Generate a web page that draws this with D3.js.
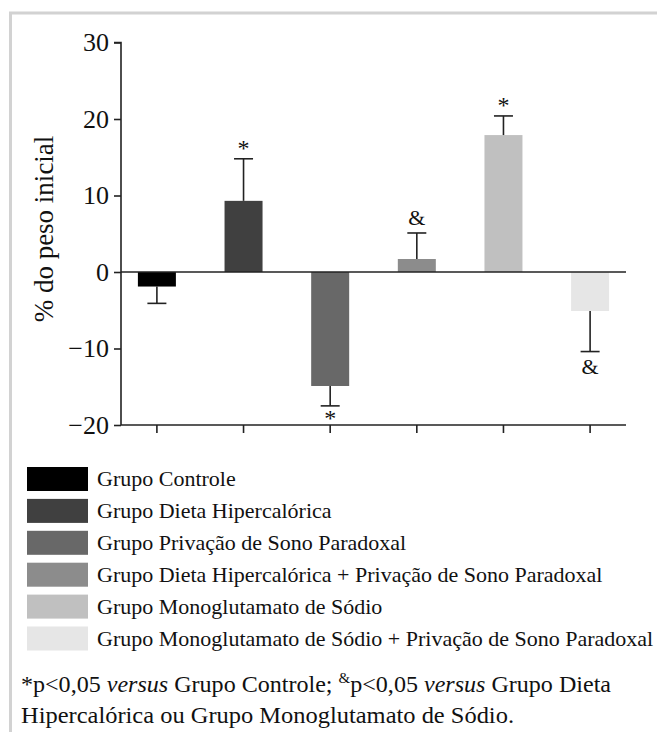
<!DOCTYPE html>
<html>
<head>
<meta charset="utf-8">
<script src="https://cdn.jsdelivr.net/npm/d3@7"></script>
<style>
html,body{margin:0;padding:0;background:#fff;}
svg{display:block;}
svg text{font-family:"Liberation Serif","Tinos","Times New Roman","DejaVu Serif",serif;fill:#111;}
</style>
</head>
<body>
<svg id="chart" width="657" height="732"></svg>
<script>
const groups = [
  "Grupo Controle",
  "Grupo Dieta Hipercalórica",
  "Grupo Privação de Sono Paradoxal",
  "Grupo Dieta Hipercalórica + Privação de Sono Paradoxal",
  "Grupo Monoglutamato de Sódio",
  "Grupo Monoglutamato de Sódio + Privação de Sono Paradoxal"
];
const means = [-1.9, 9.3, -14.9, 1.7, 17.9, -5.1];
const errors = [2.2, 5.5, 2.6, 3.4, 2.5, 5.3];
const marks = ["", "*", "*", "&", "*", "&"];
const colors = ["#000000", "#404040", "#686868", "#8c8c8c", "#c0c0c0", "#e6e6e6"];
const yTicks = [-20, -10, 0, 10, 20, 30];
const yLabel = "% do peso inicial";
const footLines = [
  [["*p<0,05 ", "n"], ["versus", "i"], [" Grupo Controle; ", "n"], ["&", "sup"], ["p<0,05 ", "base"], ["versus", "i"], [" Grupo Dieta", "n"]],
  [["Hipercalórica ou Grupo Monoglutamato de Sódio.", "n"]]
];

const FONT = '"Liberation Serif","Tinos","Times New Roman","DejaVu Serif",serif';
const svg = d3.select("#chart");

// frame
svg.append("rect").attr("x", 10.5).attr("y", 13).attr("width", 800).attr("height", 800)
  .attr("fill", "none").attr("stroke", "#d2d2d2").attr("stroke-width", 3);

const x0 = 121, x1 = 626;
const x = d3.scaleBand().domain(groups).range([x0, x1]).paddingInner(0.5614).paddingOuter(0.195);
const y = d3.scaleLinear().domain([-20, 30]).range([425, 42.5]);

// y axis
const yAxis = svg.append("g").attr("transform", `translate(${x0},0)`)
  .call(d3.axisLeft(y).tickValues(yTicks).tickSize(7).tickPadding(5).tickFormat(d3.format("d")));
yAxis.attr("font-family", FONT);
yAxis.select(".domain").attr("stroke", "#222").attr("stroke-width", 1.6).attr("d", `M-7,${y(30)}H0V${y(-20)}`);
yAxis.selectAll(".tick line").attr("stroke", "#222").attr("stroke-width", 1.6);
yAxis.selectAll(".tick text").attr("font-size", 26).attr("fill", "#111");

// x axis (bottom)
const xAxis = svg.append("g").attr("transform", `translate(0,${y(-20)})`)
  .call(d3.axisBottom(x).tickSize(8).tickFormat(""));
xAxis.select(".domain").attr("stroke", "#222").attr("stroke-width", 1.6).attr("d", `M${x0},0H${x1}`);
xAxis.selectAll(".tick line").attr("stroke", "#222").attr("stroke-width", 1.6);

// bars
svg.append("g").selectAll("rect").data(groups).join("rect")
  .attr("x", d => x(d))
  .attr("width", x.bandwidth())
  .attr("y", (d, i) => Math.min(y(0), y(means[i])))
  .attr("height", (d, i) => Math.abs(y(means[i]) - y(0)))
  .attr("fill", (d, i) => colors[i]);

// zero line
svg.append("line").attr("x1", x0).attr("x2", x1).attr("y1", y(0)).attr("y2", y(0))
  .attr("stroke", "#222").attr("stroke-width", 1.6);

// error bars
const eb = svg.append("g");
groups.forEach((g, i) => {
  const cx = x(g) + x.bandwidth() / 2;
  const dir = means[i] >= 0 ? 1 : -1;
  const yEnd = y(means[i] + dir * errors[i]);
  const capW = x.bandwidth() / 4;
  eb.append("line").attr("x1", cx).attr("x2", cx).attr("y1", y(means[i])).attr("y2", yEnd)
    .attr("stroke", "#222").attr("stroke-width", 1.6);
  eb.append("line").attr("x1", cx - capW).attr("x2", cx + capW).attr("y1", yEnd).attr("y2", yEnd)
    .attr("stroke", "#222").attr("stroke-width", 1.6);
  if (marks[i]) {
    const isStar = marks[i] === "*";
    const t = eb.append("text").attr("x", cx).attr("text-anchor", "middle")
      .attr("font-size", isStar ? 24 : 22).text(marks[i]);
    if (dir > 0) t.attr("y", yEnd - (isStar ? 3 : 8));
    else t.attr("y", yEnd + (isStar ? 20 : 22));
  }
});

// y label
svg.append("text").attr("transform", `translate(53,229) rotate(-90)`)
  .attr("text-anchor", "middle").attr("font-size", 27).text(yLabel);

// legend
const leg = svg.append("g");
groups.forEach((g, i) => {
  const yy = 467 + i * 31.9;
  leg.append("rect").attr("x", 27).attr("y", yy).attr("width", 61).attr("height", 24).attr("fill", colors[i]);
  leg.append("text").attr("x", 97).attr("y", yy + 19).attr("font-size", 22).text(g);
});

// footnote
footLines.forEach((line, li) => {
  const t = svg.append("text").attr("x", 21).attr("y", 692 + li * 31).attr("font-size", 24)
    .attr("textLength", li === 0 ? 590 : 493).attr("lengthAdjust", "spacingAndGlyphs");
  line.forEach(seg => {
    const ts = t.append("tspan").text(seg[0]);
    if (seg[1] === "i") ts.attr("font-style", "italic");
    if (seg[1] === "sup") ts.attr("font-size", 15).attr("dy", -9);
    if (seg[1] === "base") ts.attr("dy", 9);
  });
});
</script>
</body>
</html>
